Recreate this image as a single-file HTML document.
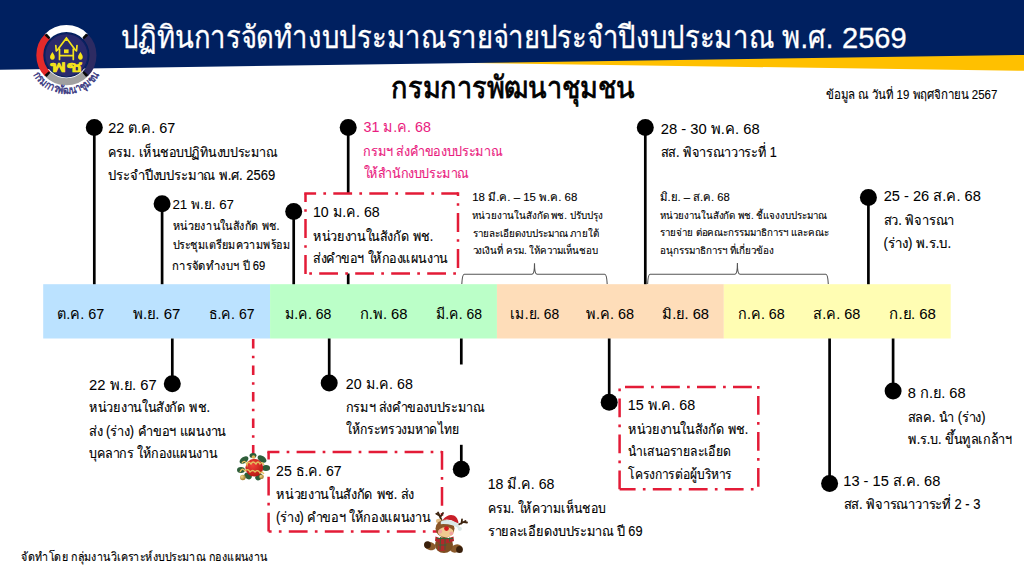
<!DOCTYPE html><html><head><meta charset="utf-8"><style>
html,body{margin:0;padding:0;background:#fff;width:1024px;height:576px;overflow:hidden}
svg{display:block;font-family:"Liberation Sans",sans-serif}
</style></head><body>
<svg width="1024" height="576" viewBox="0 0 1024 576">
<polygon points="470,63 1024,40 1024,70.8" fill="#FFC000"/>
<polygon points="0,0 1024,0 1024,55 0,69.7" fill="#002060"/>
<g id="logo">
<circle cx="66.4" cy="55.2" r="21.6" fill="#2A2A6C" stroke="#0E2160" stroke-width="1.2"/>
<path d="M47.59,36.39 A26.6,26.6 0 0 1 85.21,36.39" fill="none" stroke="#FFFFFF" stroke-width="7"/>
<path d="M85.21,36.39 A26.6,26.6 0 0 1 85.21,74.01" fill="none" stroke="#2D2B62" stroke-width="7"/>
<path d="M85.21,74.01 A26.6,26.6 0 0 1 47.59,74.01" fill="none" stroke="#A0A0A0" stroke-width="7"/>
<path d="M47.59,74.01 A26.6,26.6 0 0 1 47.59,36.39" fill="none" stroke="#E52A2A" stroke-width="7"/>
<path d="M84.27,35.49 A26.6,26.6 0 0 1 86.11,37.33" fill="none" stroke="#0A0A0A" stroke-width="5.5"/>
<path d="M86.11,73.07 A26.6,26.6 0 0 1 84.27,74.91" fill="none" stroke="#0A0A0A" stroke-width="5.5"/>
<path d="M48.53,74.91 A26.6,26.6 0 0 1 46.69,73.07" fill="none" stroke="#0A0A0A" stroke-width="5.5"/>
<path d="M46.69,37.33 A26.6,26.6 0 0 1 48.53,35.49" fill="none" stroke="#0A0A0A" stroke-width="5.5"/>
<g fill="none" stroke="#F4E31A" stroke-width="1.7" stroke-linejoin="round" stroke-linecap="round"><path d="M57.3,50.2 L66.4,38 L75.5,50.2"/><path d="M56.3,51 L55.8,45.5 M76.5,51 L77,45.5"/><path d="M59.5,49 L59.5,59.5 M73.3,49 L73.3,59.5 M59.5,55.6 L73.3,55.6"/></g>
<path d="M66.4,36.5 L68,41 L64.8,41 Z" fill="#F4E31A"/>
<rect x="64" y="49.4" width="4.6" height="3.8" fill="#F4E31A"/>
<path d="M52.4,52 q-3,4 -2.2,6.2 q1,1.6 2.2,1.6 q1.4,0 2.2,-1.6 q0.8,-2.2 -2.2,-6.2 Z M80.4,52 q-3,4 -2.2,6.2 q1,1.6 2.2,1.6 q1.4,0 2.2,-1.6 q0.8,-2.2 -2.2,-6.2 Z" fill="#F4E31A"/>
<text transform="translate(50.4,72.4) scale(1,1.05)" font-size="15" fill="#F4E31A" stroke="#F4E31A" stroke-width="0.7" textLength="31.8" lengthAdjust="spacingAndGlyphs">พช</text>
<defs><path id="arcT" d="M32.01,72.72 A38.6,38.6 0 0 0 100.79,72.72"/></defs>
<text font-size="11.2" fill="#37367F" stroke="#37367F" stroke-width="0.45"><textPath href="#arcT" startOffset="2.2" textLength="80.5" lengthAdjust="spacingAndGlyphs">กรมการพัฒนาชุมชน</textPath></text>
</g>
<rect x="43.20" y="284.2" width="226.88" height="54.3" fill="#BBE2FF"/>
<rect x="270.07" y="284.2" width="226.88" height="54.3" fill="#BBFFC8"/>
<rect x="496.95" y="284.2" width="226.88" height="54.3" fill="#FEDDB9"/>
<rect x="723.83" y="284.2" width="226.88" height="54.3" fill="#FFFDB3"/>
<line x1="94.3" y1="127.4" x2="94.3" y2="284.2" stroke="#000" stroke-width="2.7"/>
<circle cx="94.3" cy="127.4" r="8.5" fill="#000"/>
<line x1="162.1" y1="203.8" x2="162.1" y2="284.2" stroke="#000" stroke-width="2.7"/>
<circle cx="162.1" cy="203.8" r="8.5" fill="#000"/>
<line x1="293.7" y1="211.6" x2="293.7" y2="284.2" stroke="#000" stroke-width="2.7"/>
<circle cx="293.7" cy="211.6" r="8.5" fill="#000"/>
<line x1="348.2" y1="127.6" x2="348.2" y2="284.2" stroke="#000" stroke-width="2.7"/>
<circle cx="348.2" cy="127.6" r="8.5" fill="#000"/>
<line x1="645.3" y1="127.4" x2="645.3" y2="284.2" stroke="#000" stroke-width="2.7"/>
<circle cx="645.3" cy="127.4" r="8.5" fill="#000"/>
<line x1="868.4" y1="197.5" x2="868.4" y2="284.2" stroke="#000" stroke-width="2.7"/>
<circle cx="868.4" cy="197.5" r="8.5" fill="#000"/>
<line x1="172.3" y1="338.5" x2="172.3" y2="383.7" stroke="#000" stroke-width="2.7"/>
<circle cx="172.3" cy="383.7" r="8.5" fill="#000"/>
<line x1="329.2" y1="338.5" x2="329.2" y2="382.9" stroke="#000" stroke-width="2.7"/>
<circle cx="329.2" cy="382.9" r="8.5" fill="#000"/>
<line x1="461.3" y1="338.5" x2="461.3" y2="469.2" stroke="#000" stroke-width="2.7"/>
<circle cx="461.3" cy="469.2" r="8.5" fill="#000"/>
<line x1="609.2" y1="338.5" x2="609.2" y2="402.3" stroke="#000" stroke-width="2.7"/>
<circle cx="609.2" cy="402.3" r="8.5" fill="#000"/>
<line x1="829.6" y1="338.5" x2="829.6" y2="483.5" stroke="#000" stroke-width="2.7"/>
<circle cx="829.6" cy="483.5" r="8.5" fill="#000"/>
<line x1="893.1" y1="338.5" x2="893.1" y2="390.9" stroke="#000" stroke-width="2.7"/>
<circle cx="893.1" cy="390.9" r="8.5" fill="#000"/>
<line x1="253.2" y1="338.5" x2="253.2" y2="455" stroke="#E31B37" stroke-width="2.6" stroke-dasharray="9.5 7.25 2.5 7.25" stroke-dashoffset="26.1"/>
<rect x="340" y="364.5" width="150" height="80.3" fill="#fff"/>
<rect x="305.5" y="193.5" width="152.5" height="80.0" fill="#fff"/>
<line x1="304.25" y1="193.5" x2="458" y2="193.5" stroke="#E31B37" stroke-width="2.5" stroke-dasharray="18.8 7.25 2.7 7.25" stroke-dashoffset="6.949999999999999"/>
<line x1="458" y1="192.25" x2="458" y2="273.5" stroke="#E31B37" stroke-width="2.5" stroke-dasharray="18.8 7.25 2.7 7.25" stroke-dashoffset="15.149999999999999"/>
<line x1="459.25" y1="273.5" x2="305.5" y2="273.5" stroke="#E31B37" stroke-width="2.5" stroke-dasharray="18.8 7.25 2.7 7.25" stroke-dashoffset="22.75"/>
<line x1="305.5" y1="274.75" x2="305.5" y2="193.5" stroke="#E31B37" stroke-width="2.5" stroke-dasharray="18.8 7.25 2.7 7.25" stroke-dashoffset="-0.85"/>
<rect x="268.6" y="452" width="173.39999999999998" height="79.60000000000002" fill="#fff"/>
<line x1="267.35" y1="452" x2="442" y2="452" stroke="#E31B37" stroke-width="2.5" stroke-dasharray="18.8 7.25 2.7 7.25" stroke-dashoffset="6.75"/>
<line x1="442" y1="450.75" x2="442" y2="531.6" stroke="#E31B37" stroke-width="2.5" stroke-dasharray="18.8 7.25 2.7 7.25" stroke-dashoffset="-0.25"/>
<line x1="443.25" y1="531.6" x2="268.6" y2="531.6" stroke="#E31B37" stroke-width="2.5" stroke-dasharray="18.8 7.25 2.7 7.25" stroke-dashoffset="8.35"/>
<line x1="268.6" y1="532.85" x2="268.6" y2="452" stroke="#E31B37" stroke-width="2.5" stroke-dasharray="18.8 7.25 2.7 7.25" stroke-dashoffset="-1.25"/>
<rect x="619.6" y="387" width="138.69999999999993" height="102.30000000000001" fill="#fff"/>
<line x1="618.35" y1="387" x2="758.3" y2="387" stroke="#E31B37" stroke-width="2.5" stroke-dasharray="18.8 7.25 2.7 7.25" stroke-dashoffset="29.35"/>
<line x1="758.3" y1="385.75" x2="758.3" y2="489.3" stroke="#E31B37" stroke-width="2.5" stroke-dasharray="18.8 7.25 2.7 7.25" stroke-dashoffset="25.75"/>
<line x1="759.55" y1="489.3" x2="619.6" y2="489.3" stroke="#E31B37" stroke-width="2.5" stroke-dasharray="18.8 7.25 2.7 7.25" stroke-dashoffset="20.05"/>
<line x1="619.6" y1="490.55" x2="619.6" y2="387" stroke="#E31B37" stroke-width="2.5" stroke-dasharray="18.8 7.25 2.7 7.25" stroke-dashoffset="-1.25"/>
<path d="M461.8,284 Q462.3,274.3 464.3,274.3 L532.0,274.3 Q534.5,274.3 534.5,263.3 Q534.5,274.3 537.0,274.3 L604.7,274.3 Q606.7,274.3 607.2,284" fill="none" stroke="#555" stroke-width="1.1"/>
<path d="M647.6,284 Q648.1,274.3 650.1,274.3 L734.9,274.3 Q737.4,274.3 737.4,263 Q737.4,274.3 739.9,274.3 L825.8,274.3 Q827.8,274.3 828.3,284" fill="none" stroke="#555" stroke-width="1.1"/>
<text transform="translate(120.57,47.7) scale(1,1.12)" font-size="28" font-weight="normal" fill="#fff" stroke="#fff" stroke-width="0.25" textLength="712.78" lengthAdjust="spacingAndGlyphs">ปฏิทินการจัดทำงบประมาณรายจ่ายประจำปีงบประมาณ พ.ศ.</text>
<text transform="translate(841.97,47.7) scale(1,1.0)" font-size="28.6" font-weight="normal" fill="#fff" stroke="#fff" stroke-width="0.3" textLength="64.72" lengthAdjust="spacingAndGlyphs">2569</text>
<text transform="translate(391.32,98) scale(1,1.08)" font-size="28.1" font-weight="normal" fill="#000" stroke="#000" stroke-width="0.75" textLength="243.41" lengthAdjust="spacingAndGlyphs">กรมการพัฒนาชุมชน</text>
<text transform="translate(826.25,98.7) scale(1,1.1)" font-size="11.5" font-weight="normal" fill="#000" stroke="#000" stroke-width="0.1" textLength="171.09" lengthAdjust="spacingAndGlyphs">ข้อมูล ณ วันที่ 19 พฤศจิกายน 2567</text>
<text transform="translate(108.26,133.2) scale(1,1.0)" font-size="14.5" font-weight="normal" fill="#000" stroke="#000" stroke-width="0.06" textLength="66.96" lengthAdjust="spacingAndGlyphs">22 ต.ค. 67</text>
<text transform="translate(108.00,157.3) scale(1,1.14)" font-size="12.4" font-weight="normal" fill="#000" stroke="#000" stroke-width="0.12" textLength="169.19" lengthAdjust="spacingAndGlyphs">ครม. เห็นชอบปฏิทินงบประมาณ</text>
<text transform="translate(108.49,180) scale(1,1.14)" font-size="12.4" font-weight="normal" fill="#000" stroke="#000" stroke-width="0.12" textLength="166.74" lengthAdjust="spacingAndGlyphs">ประจำปีงบประมาณ พ.ศ. 2569</text>
<text transform="translate(172.44,208.8) scale(1,1.0)" font-size="13.3" font-weight="normal" fill="#000" stroke="#000" stroke-width="0.06" textLength="61.58" lengthAdjust="spacingAndGlyphs">21 พ.ย. 67</text>
<text transform="translate(172.70,229.9) scale(1,1.1)" font-size="11.1" font-weight="normal" fill="#000" stroke="#000" stroke-width="0.12" textLength="106.92" lengthAdjust="spacingAndGlyphs">หน่วยงานในสังกัด พช.</text>
<text transform="translate(172.71,249) scale(1,1.1)" font-size="11.1" font-weight="normal" fill="#000" stroke="#000" stroke-width="0.12" textLength="117.28" lengthAdjust="spacingAndGlyphs">ประชุมเตรียมความพร้อม</text>
<text transform="translate(172.43,270) scale(1,1.1)" font-size="11.1" font-weight="normal" fill="#000" stroke="#000" stroke-width="0.12" textLength="92.69" lengthAdjust="spacingAndGlyphs">การจัดทำงบฯ ปี 69</text>
<text transform="translate(312.91,216.6) scale(1,1.0)" font-size="14.5" font-weight="normal" fill="#000" stroke="#000" stroke-width="0.06" textLength="66.80" lengthAdjust="spacingAndGlyphs">10 ม.ค. 68</text>
<text transform="translate(313.40,241) scale(1,1.14)" font-size="12.4" font-weight="normal" fill="#000" stroke="#000" stroke-width="0.12" textLength="119.74" lengthAdjust="spacingAndGlyphs">หน่วยงานในสังกัด พช.</text>
<text transform="translate(313.16,263.4) scale(1,1.14)" font-size="12.4" font-weight="normal" fill="#000" stroke="#000" stroke-width="0.12" textLength="134.44" lengthAdjust="spacingAndGlyphs">ส่งคำขอฯ ให้กองแผนงาน</text>
<text transform="translate(363.50,131.7) scale(1,1.0)" font-size="14.5" font-weight="normal" fill="#EA1C80" stroke="#EA1C80" stroke-width="0.06" textLength="67.32" lengthAdjust="spacingAndGlyphs">31 ม.ค. 68</text>
<text transform="translate(363.25,155.5) scale(1,1.14)" font-size="12.4" font-weight="normal" fill="#EA1C80" stroke="#EA1C80" stroke-width="0.12" textLength="138.79" lengthAdjust="spacingAndGlyphs">กรมฯ ส่งคำของบประมาณ</text>
<text transform="translate(363.75,177.7) scale(1,1.14)" font-size="12.4" font-weight="normal" fill="#EA1C80" stroke="#EA1C80" stroke-width="0.12" textLength="104.94" lengthAdjust="spacingAndGlyphs">ให้สำนักงบประมาณ</text>
<text transform="translate(472.24,200.6) scale(1,1.0)" font-size="11.5" font-weight="normal" fill="#000" stroke="#000" stroke-width="0.1" textLength="105.09" lengthAdjust="spacingAndGlyphs">18 มี.ค. – 15 พ.ค. 68</text>
<text transform="translate(472.49,219) scale(1,1.05)" font-size="9.55" font-weight="normal" fill="#000" stroke="#000" stroke-width="0.1" textLength="130.23" lengthAdjust="spacingAndGlyphs">หน่วยงานในสังกัด พช. ปรับปรุง</text>
<text transform="translate(472.50,236.9) scale(1,1.05)" font-size="9.55" font-weight="normal" fill="#000" stroke="#000" stroke-width="0.1" textLength="126.06" lengthAdjust="spacingAndGlyphs">รายละเอียดงบประมาณ ภายใต้</text>
<text transform="translate(472.50,254) scale(1,1.05)" font-size="9.55" font-weight="normal" fill="#000" stroke="#000" stroke-width="0.1" textLength="125.77" lengthAdjust="spacingAndGlyphs">วงเงินที่ ครม. ให้ความเห็นชอบ</text>
<text transform="translate(660.73,134) scale(1,1.0)" font-size="14.5" font-weight="normal" fill="#000" stroke="#000" stroke-width="0.06" textLength="98.92" lengthAdjust="spacingAndGlyphs">28 - 30 พ.ค. 68</text>
<text transform="translate(660.75,157.2) scale(1,1.14)" font-size="12.4" font-weight="normal" fill="#000" stroke="#000" stroke-width="0.12" textLength="116.13" lengthAdjust="spacingAndGlyphs">สส. พิจารณาวาระที่ 1</text>
<text transform="translate(659.75,200.5) scale(1,1.0)" font-size="11.5" font-weight="normal" fill="#000" stroke="#000" stroke-width="0.1" textLength="70.15" lengthAdjust="spacingAndGlyphs">มิ.ย. – ส.ค. 68</text>
<text transform="translate(659.99,219) scale(1,1.05)" font-size="9.55" font-weight="normal" fill="#000" stroke="#000" stroke-width="0.1" textLength="166.82" lengthAdjust="spacingAndGlyphs">หน่วยงานในสังกัด พช. ชี้แจงงบประมาณ</text>
<text transform="translate(660.00,236.4) scale(1,1.05)" font-size="9.55" font-weight="normal" fill="#000" stroke="#000" stroke-width="0.1" textLength="168.65" lengthAdjust="spacingAndGlyphs">รายจ่าย ต่อคณะกรรมมาธิการฯ และคณะ</text>
<text transform="translate(659.74,254.2) scale(1,1.05)" font-size="9.55" font-weight="normal" fill="#000" stroke="#000" stroke-width="0.1" textLength="114.22" lengthAdjust="spacingAndGlyphs">อนุกรรมาธิการฯ ที่เกี่ยวข้อง</text>
<text transform="translate(883.64,201.25) scale(1,1.0)" font-size="14.5" font-weight="normal" fill="#000" stroke="#000" stroke-width="0.06" textLength="97.21" lengthAdjust="spacingAndGlyphs">25 - 26 ส.ค. 68</text>
<text transform="translate(883.63,225.2) scale(1,1.14)" font-size="12.4" font-weight="normal" fill="#000" stroke="#000" stroke-width="0.12" textLength="70.53" lengthAdjust="spacingAndGlyphs">สว. พิจารณา</text>
<text transform="translate(883.62,248) scale(1,1.14)" font-size="12.4" font-weight="normal" fill="#000" stroke="#000" stroke-width="0.12" textLength="67.47" lengthAdjust="spacingAndGlyphs">(ร่าง) พ.ร.บ.</text>
<text transform="translate(57.41,318.7) scale(1,1.0)" font-size="14.5" font-weight="normal" fill="#000" stroke="#000" stroke-width="0.06" textLength="46.89" lengthAdjust="spacingAndGlyphs">ต.ค. 67</text>
<text transform="translate(132.54,318.7) scale(1,1.0)" font-size="14.5" font-weight="normal" fill="#000" stroke="#000" stroke-width="0.06" textLength="47.90" lengthAdjust="spacingAndGlyphs">พ.ย. 67</text>
<text transform="translate(208.72,318.7) scale(1,1.0)" font-size="14.5" font-weight="normal" fill="#000" stroke="#000" stroke-width="0.06" textLength="45.88" lengthAdjust="spacingAndGlyphs">ธ.ค. 67</text>
<text transform="translate(284.66,318.7) scale(1,1.0)" font-size="14.5" font-weight="normal" fill="#000" stroke="#000" stroke-width="0.06" textLength="46.64" lengthAdjust="spacingAndGlyphs">ม.ค. 68</text>
<text transform="translate(359.53,318.7) scale(1,1.0)" font-size="14.5" font-weight="normal" fill="#000" stroke="#000" stroke-width="0.06" textLength="47.91" lengthAdjust="spacingAndGlyphs">ก.พ. 68</text>
<text transform="translate(435.67,318.7) scale(1,1.0)" font-size="14.5" font-weight="normal" fill="#000" stroke="#000" stroke-width="0.06" textLength="46.33" lengthAdjust="spacingAndGlyphs">มี.ค. 68</text>
<text transform="translate(510.41,318.7) scale(1,1.0)" font-size="14.5" font-weight="normal" fill="#000" stroke="#000" stroke-width="0.06" textLength="48.77" lengthAdjust="spacingAndGlyphs">เม.ย. 68</text>
<text transform="translate(586.15,318.7) scale(1,1.0)" font-size="14.5" font-weight="normal" fill="#000" stroke="#000" stroke-width="0.06" textLength="47.98" lengthAdjust="spacingAndGlyphs">พ.ค. 68</text>
<text transform="translate(662.24,318.7) scale(1,1.0)" font-size="14.5" font-weight="normal" fill="#000" stroke="#000" stroke-width="0.06" textLength="46.78" lengthAdjust="spacingAndGlyphs">มิ.ย. 68</text>
<text transform="translate(738.25,318.7) scale(1,1.0)" font-size="14.5" font-weight="normal" fill="#000" stroke="#000" stroke-width="0.06" textLength="46.46" lengthAdjust="spacingAndGlyphs">ก.ค. 68</text>
<text transform="translate(813.40,318.7) scale(1,1.0)" font-size="14.5" font-weight="normal" fill="#000" stroke="#000" stroke-width="0.06" textLength="46.92" lengthAdjust="spacingAndGlyphs">ส.ค. 68</text>
<text transform="translate(889.23,318.7) scale(1,1.0)" font-size="14.5" font-weight="normal" fill="#000" stroke="#000" stroke-width="0.06" textLength="46.70" lengthAdjust="spacingAndGlyphs">ก.ย. 68</text>
<text transform="translate(89.04,389.6) scale(1,1.0)" font-size="14.5" font-weight="normal" fill="#000" stroke="#000" stroke-width="0.06" textLength="67.60" lengthAdjust="spacingAndGlyphs">22 พ.ย. 67</text>
<text transform="translate(89.30,412.3) scale(1,1.14)" font-size="12.4" font-weight="normal" fill="#000" stroke="#000" stroke-width="0.12" textLength="120.65" lengthAdjust="spacingAndGlyphs">หน่วยงานในสังกัด พช.</text>
<text transform="translate(89.04,436.2) scale(1,1.14)" font-size="12.4" font-weight="normal" fill="#000" stroke="#000" stroke-width="0.12" textLength="137.01" lengthAdjust="spacingAndGlyphs">ส่ง (ร่าง) คำขอฯ แผนงาน</text>
<text transform="translate(89.30,458) scale(1,1.14)" font-size="12.4" font-weight="normal" fill="#000" stroke="#000" stroke-width="0.12" textLength="127.89" lengthAdjust="spacingAndGlyphs">บุคลากร ให้กองแผนงาน</text>
<text transform="translate(345.76,388.5) scale(1,1.0)" font-size="14.5" font-weight="normal" fill="#000" stroke="#000" stroke-width="0.06" textLength="67.06" lengthAdjust="spacingAndGlyphs">20 ม.ค. 68</text>
<text transform="translate(345.76,411.8) scale(1,1.14)" font-size="12.4" font-weight="normal" fill="#000" stroke="#000" stroke-width="0.12" textLength="138.39" lengthAdjust="spacingAndGlyphs">กรมฯ ส่งคำของบประมาณ</text>
<text transform="translate(346.26,434.2) scale(1,1.14)" font-size="12.4" font-weight="normal" fill="#000" stroke="#000" stroke-width="0.12" textLength="113.42" lengthAdjust="spacingAndGlyphs">ให้กระทรวงมหาดไทย</text>
<text transform="translate(276.06,476) scale(1,1.0)" font-size="14.5" font-weight="normal" fill="#000" stroke="#000" stroke-width="0.06" textLength="65.54" lengthAdjust="spacingAndGlyphs">25 ธ.ค. 67</text>
<text transform="translate(276.30,499.3) scale(1,1.14)" font-size="12.4" font-weight="normal" fill="#000" stroke="#000" stroke-width="0.12" textLength="137.95" lengthAdjust="spacingAndGlyphs">หน่วยงานในสังกัด พช. ส่ง</text>
<text transform="translate(276.05,521.7) scale(1,1.14)" font-size="12.4" font-weight="normal" fill="#000" stroke="#000" stroke-width="0.12" textLength="154.10" lengthAdjust="spacingAndGlyphs">(ร่าง) คำขอฯ ให้กองแผนงาน</text>
<text transform="translate(487.71,489) scale(1,1.0)" font-size="14.5" font-weight="normal" fill="#000" stroke="#000" stroke-width="0.06" textLength="66.70" lengthAdjust="spacingAndGlyphs">18 มี.ค. 68</text>
<text transform="translate(487.71,513) scale(1,1.14)" font-size="12.4" font-weight="normal" fill="#000" stroke="#000" stroke-width="0.12" textLength="117.92" lengthAdjust="spacingAndGlyphs">ครม. ให้ความเห็นชอบ</text>
<text transform="translate(487.94,535.5) scale(1,1.14)" font-size="12.4" font-weight="normal" fill="#000" stroke="#000" stroke-width="0.12" textLength="154.60" lengthAdjust="spacingAndGlyphs">รายละเอียดงบประมาณ ปี 69</text>
<text transform="translate(627.70,410.1) scale(1,1.0)" font-size="14.5" font-weight="normal" fill="#000" stroke="#000" stroke-width="0.06" textLength="67.52" lengthAdjust="spacingAndGlyphs">15 พ.ค. 68</text>
<text transform="translate(628.20,433.9) scale(1,1.14)" font-size="12.4" font-weight="normal" fill="#000" stroke="#000" stroke-width="0.12" textLength="119.94" lengthAdjust="spacingAndGlyphs">หน่วยงานในสังกัด พช.</text>
<text transform="translate(627.96,456.2) scale(1,1.14)" font-size="12.4" font-weight="normal" fill="#000" stroke="#000" stroke-width="0.12" textLength="103.42" lengthAdjust="spacingAndGlyphs">นำเสนอรายละเอียด</text>
<text transform="translate(628.46,479.2) scale(1,1.14)" font-size="12.4" font-weight="normal" fill="#000" stroke="#000" stroke-width="0.12" textLength="103.32" lengthAdjust="spacingAndGlyphs">โครงการต่อผู้บริหาร</text>
<text transform="translate(907.80,397.7) scale(1,1.0)" font-size="14.5" font-weight="normal" fill="#000" stroke="#000" stroke-width="0.06" textLength="57.76" lengthAdjust="spacingAndGlyphs">8 ก.ย. 68</text>
<text transform="translate(907.54,421.6) scale(1,1.14)" font-size="12.4" font-weight="normal" fill="#000" stroke="#000" stroke-width="0.12" textLength="78.01" lengthAdjust="spacingAndGlyphs">สลค. นำ (ร่าง)</text>
<text transform="translate(908.05,444.2) scale(1,1.14)" font-size="12.4" font-weight="normal" fill="#000" stroke="#000" stroke-width="0.12" textLength="103.74" lengthAdjust="spacingAndGlyphs">พ.ร.บ. ขึ้นทูลเกล้าฯ</text>
<text transform="translate(843.29,486.2) scale(1,1.0)" font-size="14.5" font-weight="normal" fill="#000" stroke="#000" stroke-width="0.06" textLength="97.06" lengthAdjust="spacingAndGlyphs">13 - 15 ส.ค. 68</text>
<text transform="translate(843.53,509.1) scale(1,1.14)" font-size="12.4" font-weight="normal" fill="#000" stroke="#000" stroke-width="0.12" textLength="136.93" lengthAdjust="spacingAndGlyphs">สส. พิจารณาวาระที่ 2 - 3</text>
<text transform="translate(21.40,560.9) scale(1,1.14)" font-size="10.9" font-weight="normal" fill="#000" stroke="#000" stroke-width="0.12" textLength="246.21" lengthAdjust="spacingAndGlyphs">จัดทำโดย กลุ่มงานวิเคราะห์งบประมาณ กองแผนงาน</text>
<defs><radialGradient id="ball" cx="0.4" cy="0.35" r="0.7"><stop offset="0" stop-color="#F2433A"/><stop offset="1" stop-color="#B3140F"/></radialGradient><radialGradient id="gold" cx="0.35" cy="0.35" r="0.7"><stop offset="0" stop-color="#F3D98A"/><stop offset="1" stop-color="#9C7424"/></radialGradient></defs>
<g id="orn"><g fill="#2E5E3A"><ellipse cx="244" cy="460" rx="5" ry="3" transform="rotate(-35 244 460)"/><ellipse cx="262" cy="459" rx="5" ry="3" transform="rotate(35 262 459)"/><ellipse cx="241" cy="470" rx="4" ry="3"/><ellipse cx="266" cy="468" rx="4" ry="3"/><ellipse cx="248" cy="476" rx="4" ry="3" transform="rotate(30 248 476)"/><ellipse cx="259" cy="477" rx="4" ry="3" transform="rotate(-30 259 477)"/><ellipse cx="253" cy="455.5" rx="3.5" ry="2.5"/></g><circle cx="254.3" cy="467.7" r="8.9" fill="url(#ball)"/><path d="M242,463 q3,-4 5,2 q1,-5 4,-1 q2,-4 5,0 q2,-4 4,0 q2,-3 4,1 M240,472 q2,-5 5,-1 q3,-3 5,1 q3,-3 5,0 q3,-3 5,1 q2,-2 4,1" fill="none" stroke="#E3BF5E" stroke-width="1.3"/><circle cx="242.8" cy="477.5" r="2.8" fill="url(#gold)"/><circle cx="261.5" cy="476.8" r="2.3" fill="url(#gold)"/><circle cx="253.5" cy="457" r="1.8" fill="#D9B45A"/></g>
<g id="deer"><path d="M441.5,520 L438,512.5 M439.3,515.5 L436.3,513.8 M440.3,517 L443,513 M457,525.5 L465.5,521 M461.5,523.5 L462,519.5 M464,522 L467,522.5" stroke="#3F2612" stroke-width="1.8" stroke-linecap="round" fill="none"/><ellipse cx="438.8" cy="521" rx="2.8" ry="2.2" fill="#E2BE85"/><ellipse cx="430" cy="546" rx="6" ry="4" fill="#8B5A2B" transform="rotate(20 430 546)"/><ellipse cx="456" cy="548.5" rx="6" ry="4" fill="#8B5A2B" transform="rotate(-15 456 548.5)"/><ellipse cx="427.5" cy="544.8" rx="3.4" ry="3.6" fill="#3A200C"/><ellipse cx="459.5" cy="549.5" rx="3.4" ry="3.6" fill="#3A200C"/><ellipse cx="444" cy="545" rx="9" ry="8" fill="#7E4E22"/><path d="M435.5,536.5 q8.5,4 18,0 l0.5,4.5 q-9,4.5 -19,0 z" fill="#B0282A"/><path d="M439,540 l-1,10 q4,2 8,0 l0,-9 z" fill="#B0282A"/><path d="M437,538.5 l16,0 M440.5,537 l-0.5,13 M445,538 l0,12 M449.5,537.5 l0,4 M438.5,545 l8,0" stroke="#2E6B3A" stroke-width="0.9" fill="none"/><ellipse cx="445" cy="528.5" rx="9.5" ry="8.8" fill="#8A5628"/><ellipse cx="445.8" cy="532.2" rx="7.8" ry="5" fill="#F0CB92"/><circle cx="440.3" cy="531.5" r="1.9" fill="#F2A3A0"/><circle cx="451.3" cy="533.3" r="1.9" fill="#F2A3A0"/><circle cx="446.5" cy="528.6" r="2.4" fill="#D4191C"/><path d="M443,519.5 q5,-6 11,-4 q4,2 4.5,8 l-3,-1 q-5,-4 -12.5,-2.5 z" fill="#C81F28"/><path d="M440.8,521.5 q8,-3.5 16.5,1.5 q2.5,2 2,6 q-7,-5.5 -18.5,-4.8 z" fill="#DCE9E8"/><circle cx="459.8" cy="528.8" r="2.1" fill="#DCE9E8"/></g>
</svg></body></html>
